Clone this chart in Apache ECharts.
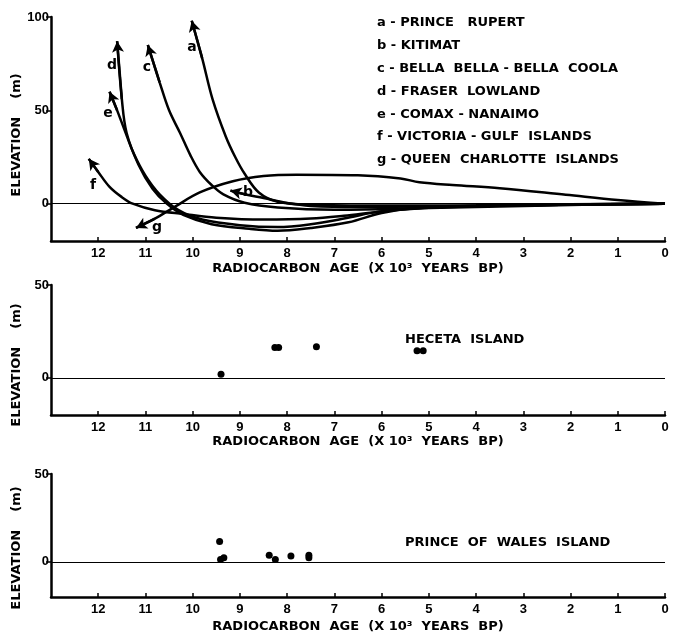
<!DOCTYPE html>
<html><head><meta charset="utf-8">
<script src="https://cdn.jsdelivr.net/npm/echarts@6/dist/echarts.min.js"></script>
<style>html,body{margin:0;padding:0;background:#fff}#c{width:674px;height:634px}</style>
</head><body><div id="c"></div>
<script>
// ---- data ----
const xTickValues = [0,1,2,3,4,5,6,7,8,9,10,11,12];
const yTicksTop = [0,50,100];
const yTicksSmall = [0,50];
const xTitle = 'RADIOCARBON  AGE  (X 10³  YEARS  BP)';
const yTitle = 'ELEVATION    (m)';

// curves: [age (ka BP), elevation (m)]; first point = arrow tip
const curveA = [[10.02,98],[9.8,78],[9.58,56],[9.3,36],[9.1,25],[8.9,16],[8.6,6],[8.2,1],[7.5,-0.6],[6,-1],[4,-0.8],[2,-0.3],[0,0]];
const curveB = [[9.2,7],[8.9,5],[8.5,3],[8.0,0.3],[7.5,-1.2],[6.5,-1.8],[5,-1.5],[3,-0.8],[0,0]];
const curveC = [[10.95,85],[10.7,65],[10.5,50],[10.27,38],[10.05,26],[9.85,17],[9.6,10],[9.35,5],[8.9,0.5],[8.2,-2],[7,-3.2],[5.5,-2.6],[3.5,-1.5],[1.5,-0.5],[0,0]];
const curveD = [[11.6,87],[11.5,56],[11.4,38],[11.15,21],[10.85,8],[10.55,0],[10.2,-6],[9.6,-11],[8.8,-13.5],[8.2,-14.5],[7.5,-13],[6.7,-10],[6,-5],[5.3,-2.5],[4,-1.2],[2,-0.4],[0,0]];
const curveE = [[11.76,60],[11.6,50],[11.45,40],[11.25,27],[11.0,15],[10.7,5],[10.3,-3.5],[9.8,-8.5],[9,-11.5],[8.2,-12.5],[7.5,-11],[6.8,-8],[6,-4],[5,-2],[3,-0.8],[0,0]];
const curveF = [[12.2,24],[12.0,17],[11.76,9],[11.5,3.5],[11.27,0],[10.8,-3.5],[10.2,-5.5],[9.5,-7.5],[8.5,-8.5],[7.5,-8],[6.8,-6.5],[6,-4.2],[5,-2.2],[3,-0.8],[0,0]];
const curveG = [[11.2,-13],[10.8,-8],[10.4,-2],[9.85,6],[9.15,12],[8.5,14.8],[7.8,15.5],[6.5,15.2],[5.6,13.5],[5.2,11.5],[4.5,10],[3.5,8.3],[2.1,4.8],[1,2],[0,0]];
const curves = [curveA,curveB,curveC,curveD,curveE,curveF,curveG];
const curveLetters = ['a','b','c','d','e','f','g'];
const legendLines = [
  'a - PRINCE   RUPERT',
  'b - KITIMAT',
  'c - BELLA  BELLA - BELLA  COOLA',
  'd - FRASER  LOWLAND',
  'e - COMAX - NANAIMO',
  'f - VICTORIA - GULF  ISLANDS',
  'g - QUEEN  CHARLOTTE  ISLANDS'
];
const hecetaPts = [[9.4,2],[8.26,16.3],[8.18,16.3],[7.38,16.8],[5.25,14.6],[5.12,14.6]];
const princeWalesPts = [[9.43,11.6],[9.41,1.4],[9.34,2.4],[8.38,3.8],[8.25,1.4],[7.92,3.4],[7.54,3.8],[7.54,2.4]];
const panelTitles = ['HECETA  ISLAND','PRINCE  OF  WALES  ISLAND'];

// ---- styling / layout ----
const FONT = 'DejaVu Sans';
const FONTCSS = '"DejaVu Sans"';
const txt = {color:'#000', fontFamily:FONT, fontWeight:'bold', fontSize:13};
const grids = [
  {left:51, right:9, top:17, height:224},
  {left:51, right:9, top:285, height:130},
  {left:51, right:9, top:474, height:123}
];
const nameGaps = [21, 19, 23];
function mkX(gi){
  return {type:'value', gridIndex:gi, min:0, max:13, interval:1, inverse:true,
    axisLine:{onZero:false, lineStyle:{color:'#000', width:2.5}},
    axisTick:{inside:true, length:4, customValues:xTickValues, lineStyle:{color:'#000', width:1.5}},
    axisLabel:Object.assign({customValues:xTickValues, margin:6}, txt, {fontFamily:'Liberation Sans'}),
    splitLine:{show:false},
    name:xTitle, nameLocation:'middle', nameGap:nameGaps[gi], nameTextStyle:Object.assign({}, txt)};
}
function mkY(gi, max, ticks){
  return {type:'value', gridIndex:gi, min:-20, max:max, interval:10,
    axisLine:{show:true, onZero:false, lineStyle:{color:'#000', width:2.5}},
    axisTick:{show:true, length:5, customValues:ticks, lineStyle:{color:'#000', width:1.5}},
    axisLabel:Object.assign({customValues:ticks, margin:2}, txt, {fontFamily:'Liberation Sans'}),
    splitLine:{show:false}};
}
function zeroLine(gi){
  return {type:'line', xAxisIndex:gi, yAxisIndex:gi, data:[], silent:true,
    markLine:{silent:true, symbol:'none', label:{show:false},
      lineStyle:{color:'#000', width:1, type:'solid'}, data:[{yAxis:0}]}};
}
const series = [zeroLine(0), zeroLine(1), zeroLine(2)];
curves.forEach(function(c){
  series.push({type:'line', xAxisIndex:0, yAxisIndex:0, data:c, smooth:0.35,
    showSymbol:false, lineStyle:{color:'#000', width:2.5},
    markLine:{silent:true, symbol:['none','arrow'], symbolSize:[9,11], label:{show:false},
      lineStyle:{color:'#000', width:2.5, type:'solid'},
      data:[[{coord:c[1]},{coord:c[0]}]]}});
});
series.push({type:'scatter', xAxisIndex:1, yAxisIndex:1, data:hecetaPts, symbolSize:7, itemStyle:{color:'#000', opacity:1}});
series.push({type:'scatter', xAxisIndex:2, yAxisIndex:2, data:princeWalesPts, symbolSize:7, itemStyle:{color:'#000', opacity:1}});

const letterPos = [[192,47],[248,192],[147,67],[112,65],[108,113],[93,185],[157,227]];
const graphic = [];
curveLetters.forEach(function(l,i){
  graphic.push({type:'text', x:letterPos[i][0], y:letterPos[i][1], style:{text:l, align:'center', verticalAlign:'middle', fill:'#000', font:'bold 14px ' + FONTCSS}});
});
legendLines.forEach(function(t,i){
  graphic.push({type:'text', x:377, y:23+i*22.8, style:{text:t, align:'left', verticalAlign:'middle', fill:'#000', font:'bold 13px ' + FONTCSS}});
});
graphic.push({type:'text', x:405, y:340, style:{text:panelTitles[0], align:'left', verticalAlign:'middle', fill:'#000', font:'bold 13px ' + FONTCSS}});
graphic.push({type:'text', x:405, y:543, style:{text:panelTitles[1], align:'left', verticalAlign:'middle', fill:'#000', font:'bold 13px ' + FONTCSS}});
[[17,135],[17,365],[17,548]].forEach(function(p){
  graphic.push({type:'text', x:p[0], y:p[1], rotation:Math.PI/2, style:{text:yTitle, align:'center', verticalAlign:'middle', fill:'#000', font:'bold 13px ' + FONTCSS}});
});

const chart = echarts.init(document.getElementById('c'), null, {renderer:'canvas'});
chart.setOption({
  animation:false,
  backgroundColor:'#fff',
  grid:grids,
  xAxis:[mkX(0), mkX(1), mkX(2)],
  yAxis:[mkY(0,100,yTicksTop), mkY(1,50,yTicksSmall), mkY(2,50,yTicksSmall)],
  series:series,
  graphic:graphic
});
</script></body></html>
